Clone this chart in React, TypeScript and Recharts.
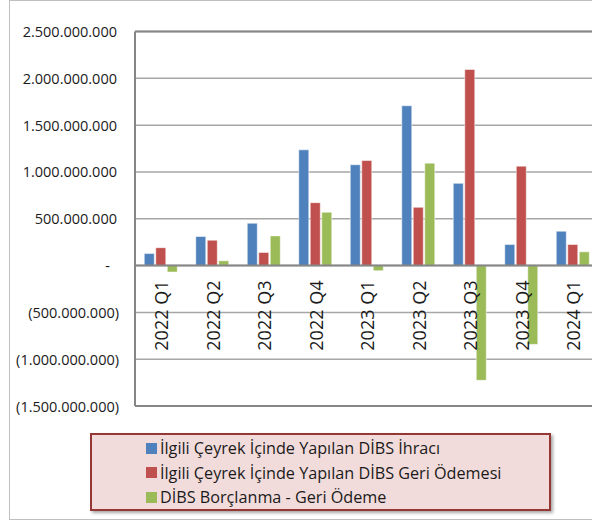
import { BarChart, Bar, XAxis, YAxis, CartesianGrid, ReferenceLine } from 'recharts'

const quarters = [
  '2022 Q1', '2022 Q2', '2022 Q3', '2022 Q4',
  '2023 Q1', '2023 Q2', '2023 Q3', '2023 Q4', '2024 Q1',
]
const ihrac = [128e6, 310e6, 452e6, 1236e6, 1077e6, 1707e6, 878e6, 225e6, 367e6]
const geriOdeme = [191e6, 271e6, 140e6, 672e6, 1122e6, 622e6, 2094e6, 1062e6, 225e6]
const net = [-69e6, 51e6, 317e6, 569e6, -55e6, 1094e6, -1226e6, -842e6, 147e6]
const yTicks = [-1.5e9, -1e9, -5e8, 0, 5e8, 1e9, 1.5e9, 2e9, 2.5e9]

const seriesNames = [
  'İlgili Çeyrek İçinde Yapılan DİBS İhracı',
  'İlgili Çeyrek İçinde Yapılan DİBS Geri Ödemesi',
  'DİBS Borçlanma - Geri Ödeme',
]
const COLORS = ['#4f81bd', '#c0504d', '#9bbb59']

const data = quarters.map((q, i) => ({ q, ihrac: ihrac[i], geri: geriOdeme[i], net: net[i] }))

const FONT = '"Open Sans", "Noto Sans", sans-serif'
const PLOT_TOP = 31.5
const PLOT_BOTTOM = 406
const ZERO_Y = PLOT_TOP + (PLOT_BOTTOM - PLOT_TOP) * (2.5 / 4)

const fmt = (v: number) => {
  if (v === 0) return '-'
  const s = Math.abs(v).toLocaleString('de-DE')
  return v < 0 ? `(${s})` : s
}

// eslint-disable-next-line @typescript-eslint/no-explicit-any
const YTick = ({ y, payload }: any) => {
  const v = payload.value as number
  const x = v === 0 ? 110 : v < 0 ? 119 : 117
  return (
    <text x={x} y={y} textAnchor="end" dominantBaseline="central" fontSize={14.5} fontFamily={FONT} fill="#1a1a1a">
      {fmt(v)}
    </text>
  )
}

// eslint-disable-next-line @typescript-eslint/no-explicit-any
const XTick = ({ x, payload }: any) => (
  <text
    transform={`translate(${x + 0.5},${ZERO_Y + 15}) rotate(-90)`}
    textAnchor="end"
    dominantBaseline="central"
    fontSize={18}
    fontFamily={FONT}
    fill="#1a1a1a"
  >
    {payload.value}
  </text>
)

export default function App() {
  return (
    <div style={{ position: 'fixed', left: 0, top: 0, width: 592, height: 520, overflow: 'hidden', background: '#fff' }}>
      {/* dış çerçeve */}
      <div style={{ position: 'absolute', left: 9, top: 0, width: 620, height: 518, border: '1px solid #bfbfbf' }} />
      <div style={{ position: 'absolute', left: 0, top: 0 }}>
        <BarChart
          width={600}
          height={520}
          data={data}
          margin={{ top: PLOT_TOP, right: 1.5, left: 0, bottom: 520 - PLOT_BOTTOM - 30 }}
          barCategoryGap="18%"
          barGap={1.5}
        >
          <CartesianGrid vertical={false} stroke="#a6a6a6" strokeWidth={1.5} />
          <XAxis dataKey="q" axisLine={false} tickLine={false} tick={<XTick />} height={30} interval={0} />
          <YAxis
            domain={[-1.5e9, 2.5e9]}
            ticks={yTicks}
            width={135}
            axisLine={{ stroke: '#868686', strokeWidth: 2 }}
            tickLine={false}
            tick={<YTick />}
            allowDataOverflow
          />
          <ReferenceLine y={2.5e9} stroke="#868686" strokeWidth={2} />
          <ReferenceLine y={-1.5e9} stroke="#868686" strokeWidth={2} />
          <Bar dataKey="ihrac" fill={COLORS[0]} stroke="#ffffff" strokeOpacity={0.5} isAnimationActive={false} />
          <Bar dataKey="geri" fill={COLORS[1]} stroke="#ffffff" strokeOpacity={0.5} isAnimationActive={false} />
          <Bar dataKey="net" fill={COLORS[2]} stroke="#ffffff" strokeOpacity={0.5} isAnimationActive={false} />
          <ReferenceLine y={0} stroke="#868686" strokeWidth={2} />
        </BarChart>
      </div>
      {/* lejant */}
      <div
        style={{
          position: 'absolute', left: 90, top: 433, width: 457, height: 74,
          background: '#f2dcdb', border: '2px solid #953735',
          boxShadow: '2px 2px 3px rgba(0,0,0,0.35)',
          fontFamily: FONT, fontSize: 16.2, color: '#1a1a1a',
        }}
      >
        {seriesNames.map((name, i) => (
          <div key={name} style={{ position: 'absolute', left: 54, top: 1 + i * 24.5, height: 24, display: 'flex', alignItems: 'center', whiteSpace: 'nowrap' }}>
            <span style={{ display: 'inline-block', width: 11, height: 11, background: COLORS[i], marginRight: 3 }} />
            {name}
          </div>
        ))}
      </div>
    </div>
  )
}
